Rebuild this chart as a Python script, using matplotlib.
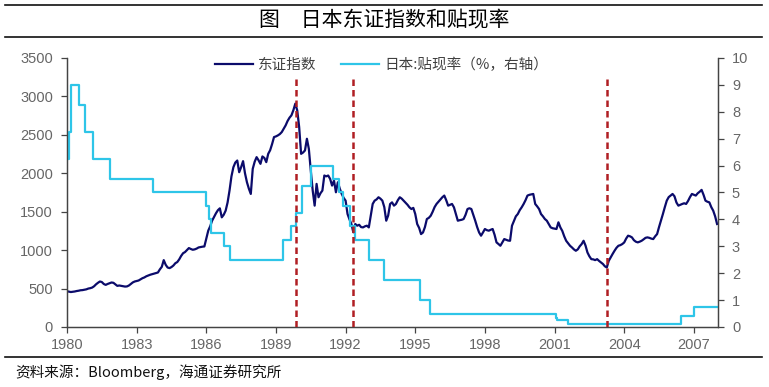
import numpy as np
import matplotlib
matplotlib.use('Agg')
import matplotlib.pyplot as plt
from matplotlib.lines import Line2D

# TOPIX monthly close, Jan 1980 - Jan 2008
topix = [
    465, 460, 455, 458, 462, 468, 472, 478, 480, 485, 490, 500,         # 1980
    505, 513, 530, 555, 575, 592, 585, 560, 548, 560, 570, 579,         # 1981
    575, 555, 535, 540, 535, 530, 526, 528, 540, 560, 580, 592,         # 1982
    598, 605, 620, 635, 645, 660, 670, 680, 687, 695, 700, 709,         # 1983
    750, 783, 870, 810, 774, 766, 780, 800, 830, 845, 880, 925,         # 1984
    960, 975, 1000, 1027, 1015, 1005, 1010, 1020, 1035, 1040, 1045, 1048,  # 1985
    1150, 1253, 1310, 1383, 1430, 1480, 1520, 1544, 1427, 1460, 1514, 1620,  # 1986
    1775, 1960, 2079, 2140, 2166, 2014, 2080, 2158, 2000, 1884, 1800, 1731,  # 1987
    2058, 2150, 2210, 2170, 2123, 2219, 2200, 2145, 2253, 2300, 2380, 2471,  # 1988
    2480, 2493, 2510, 2536, 2580, 2623, 2680, 2723, 2754, 2820, 2906, 2819,  # 1989
    2601, 2253, 2270, 2297, 2449, 2318, 2036, 1775, 1579, 1862, 1688, 1740,  # 1990
    1775, 1971, 1960, 1971, 1927, 1840, 1905, 1753, 1884, 1800, 1731, 1680,  # 1991
    1644, 1470, 1400, 1340, 1231, 1340, 1318, 1330, 1300, 1296, 1310, 1318,  # 1992
    1296, 1450, 1601, 1644, 1660, 1688, 1670, 1644, 1560, 1383, 1450, 1600,  # 1993
    1622, 1579, 1600, 1650, 1688, 1670, 1644, 1620, 1590, 1557, 1535, 1550,  # 1994
    1470, 1340, 1290, 1209, 1230, 1300, 1405, 1420, 1448, 1500, 1560, 1601,  # 1995
    1630, 1660, 1688, 1710, 1650, 1579, 1590, 1601, 1557, 1470, 1383, 1390,  # 1996
    1395, 1405, 1460, 1535, 1545, 1535, 1460, 1383, 1300, 1230, 1188, 1230,  # 1997
    1275, 1260, 1253, 1265, 1275, 1200, 1101, 1080, 1057, 1100, 1144, 1135,  # 1998
    1125, 1122, 1318, 1380, 1440, 1470, 1520, 1557, 1600, 1650, 1710, 1720,  # 1999
    1725, 1731, 1601, 1570, 1535, 1470, 1440, 1405, 1383, 1340, 1296, 1285,  # 2000
    1280, 1275, 1362, 1296, 1250, 1180, 1122, 1090, 1057, 1035, 1010, 992,   # 2001
    1010, 1050, 1079, 1122, 1060, 970, 920, 883, 880, 870, 883, 860,         # 2002
    840, 820, 790, 774, 860, 905, 950, 992, 1030, 1057, 1065, 1079,          # 2003
    1100, 1150, 1188, 1180, 1166, 1130, 1110, 1101, 1110, 1122, 1140, 1160,  # 2004
    1166, 1160, 1150, 1144, 1180, 1209, 1300, 1383, 1470, 1560, 1644, 1690,  # 2005
    1710, 1731, 1700, 1620, 1579, 1590, 1601, 1610, 1601, 1640, 1690, 1731,  # 2006
    1720, 1710, 1740, 1760, 1784, 1720, 1644, 1630, 1622, 1560, 1514, 1440,  # 2007
    1340,                                                                    # 2008
]
topix_t = 1980 + np.arange(len(topix)) / 12

# Japan official discount rate (%), change dates as decimal years
rate_t = [1980.0, 1980.08, 1980.16, 1980.53, 1980.78, 1981.1, 1981.85, 1983.69,
          1985.98, 1986.1, 1986.2, 1986.77, 1987.0, 1989.3, 1989.65, 1989.85,
          1990.12, 1990.5, 1991.44, 1991.72, 1991.88, 1992.2, 1992.42, 1993.02,
          1993.66, 1995.2, 1995.63, 2001.05, 2001.1, 2001.6, 2006.44, 2007.02, 2008.0]
rate = [6.25, 7.25, 9.0, 8.25, 7.25, 6.25, 5.5, 5.0,
        4.5, 4.0, 3.5, 3.0, 2.5, 3.25, 3.75, 4.25,
        5.25, 6.0, 5.5, 5.0, 4.5, 3.75, 3.25, 2.5,
        1.75, 1.0, 0.5, 0.35, 0.25, 0.1, 0.4, 0.75, 0.75]

# turning points marked with dashed lines
events = [1989.86, 1992.32, 2003.26]

year_ticks = list(range(1980, 2008, 3))

navy = '#0b0b6b'
cyan = '#2ec5e8'
red = '#b01e23'
grey = '#666666'
cjk = ['Noto Sans CJK SC', 'DejaVu Sans']

plt.rcParams['font.family'] = ['Liberation Sans', 'Noto Sans CJK SC']

fig = plt.figure(figsize=(7.69, 3.87), dpi=100, facecolor='white')
ax = fig.add_axes([67 / 769, 1 - 327 / 387, 651 / 769, 269 / 387])
ax2 = ax.twinx()

ln1, = ax.plot(topix_t, topix, color=navy, lw=1.6, label='东证指数')
ln2, = ax2.step(rate_t, rate, where='post', color=cyan, lw=1.6,
                label='日本:贴现率（%，右轴）')
for d in events:
    ax2.axvline(d, ymin=0, ymax=0.937, color=red, lw=1.8,
                linestyle=(0, (2.6, 1.6)), zorder=5)

ax.set_xlim(1980, 2008.04)
ax.set_ylim(0, 3500)
ax.set_yticks(np.arange(0, 3501, 500))
ax2.set_ylim(0, 10)
ax2.set_yticks(np.arange(0, 11, 1))
ax.set_xticks(year_ticks)
ax.set_xticklabels([str(y) for y in year_ticks])

for a in (ax, ax2):
    for s in a.spines.values():
        s.set_color('#444444')
        s.set_linewidth(0.9)
    a.spines['top'].set_visible(False)
    a.tick_params(direction='out', length=4, width=0.9, color='#444444',
                  labelcolor=grey, labelsize=10.5)
ax.tick_params(axis='y', pad=6)
ax2.tick_params(axis='y', pad=6)
ax.tick_params(axis='x', pad=4)

leg = ax2.legend(handles=[ln1, ln2], loc='center', bbox_to_anchor=(0.483, 0.974),
                 ncol=2, frameon=False, handlelength=2.6, handletextpad=0.35,
                 columnspacing=1.7, prop={'family': cjk, 'size': 10.5})
for t in leg.get_texts():
    t.set_color('#404040')

# title block and source note
fig.text(0.5, 1 - 20 / 387, '图　日本东证指数和贴现率', ha='center', va='center',
         fontsize=15, fontweight='medium', family=cjk, color='#000000')
for yy in (1 - 5 / 387, 1 - 37 / 387, 1 - 357 / 387):
    fig.add_artist(Line2D([5 / 769, 762 / 769], [yy, yy], color='#111111', lw=1.2))
fig.text(15 / 769, 1 - 372 / 387, '资料来源：Bloomberg，海通证券研究所', ha='left',
         va='center', fontsize=10.5, family=cjk, color='#111111')

fig.savefig('out.png', dpi=100, facecolor='white')
plt.close(fig)
